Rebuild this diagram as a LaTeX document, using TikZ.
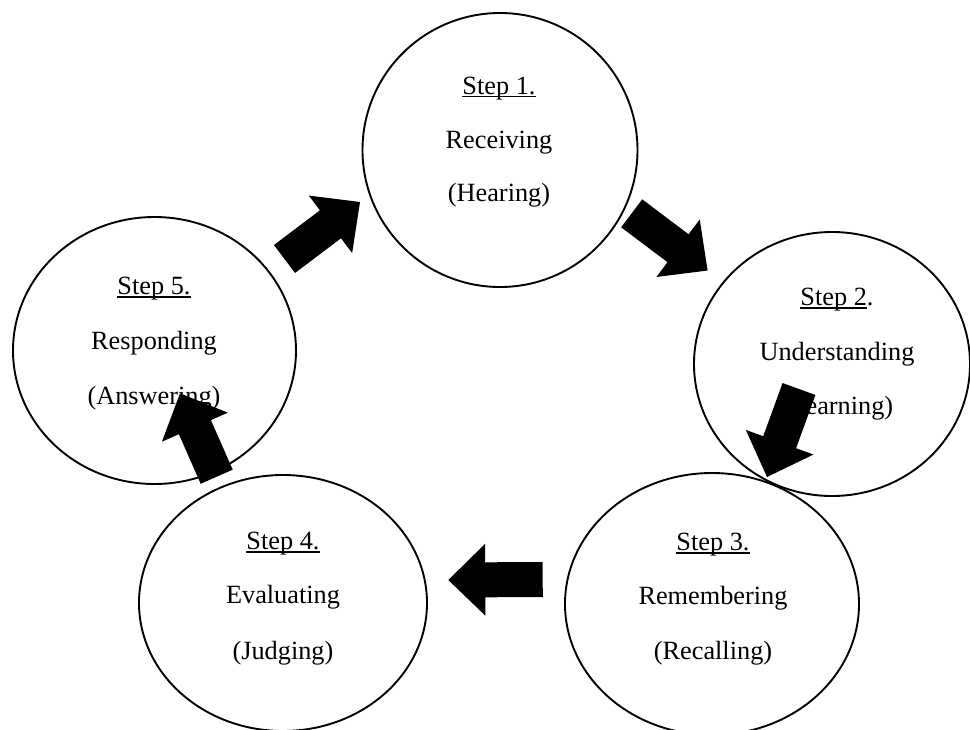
\documentclass[tikz,border=0pt]{standalone}
\usepackage{fontspec}
\setmainfont{Liberation Serif}
\usetikzlibrary{shapes.geometric,calc}
\newlength\ulw
\newcommand\ulx[1]{\settowidth\ulw{#1}\rlap{\rule[-3pt]{\ulw}{1.3pt}}#1}
\newcommand\blockarrow[3]{%
  \coordinate (#1h) at ($(#3)!37pt!(#2)$);
  \fill[black] ($(#2)!17.5pt!90:(#3)$) -- ($(#1h)!17.5pt!90:(#3)$) -- ($(#1h)!36pt!90:(#3)$) -- (#3)
     -- ($(#1h)!36pt!-90:(#3)$) -- ($(#1h)!17.5pt!-90:(#3)$) -- ($(#2)!17.5pt!-90:(#3)$) -- cycle;}
\begin{document}
\begin{tikzpicture}[x=1pt,y=-1pt,
  stepcircle/.style={draw=black, line width=1.9pt, ellipse, inner sep=0pt},
  steptext/.style={anchor=base, inner sep=0pt, font=\fontsize{26.3}{30}\selectfont}]
\useasboundingbox (0,0) rectangle (970,729);
\clip (0,0) rectangle (970,729);
% circles
\node[stepcircle, minimum width=275pt, minimum height=274pt] (c1) at (500,150) {};
\node[stepcircle, minimum width=276pt, minimum height=264pt] (c2) at (832,364) {};
\node[stepcircle, minimum width=294pt, minimum height=262pt] (c3) at (712,604) {};
\node[stepcircle, minimum width=288pt, minimum height=256pt] (c4) at (283,603) {};
\node[stepcircle, minimum width=283pt, minimum height=267pt] (c5) at (154.5,350.5) {};
% texts
\node[steptext] (t1a) at (499,94) {\ulx{Step 1.}};
\node[steptext] (t1b) at (499,148) {Receiving};
\node[steptext] (t1c) at (499,201.5) {(Hearing)};
\node[steptext] (t2a) at (837,305.5) {\ulx{Step 2}.};
\node[steptext] (t2b) at (837,360.5) {Understanding};
\node[steptext] (t2c) at (837,414.5) {(Learning)};
\node[steptext] (t3a) at (713,550.5) {\ulx{Step 3.}};
\node[steptext] (t3b) at (713,604.5) {Remembering};
\node[steptext] (t3c) at (713,659.5) {(Recalling)};
\node[steptext] (t4a) at (283,549.5) {\ulx{Step 4.}};
\node[steptext] (t4b) at (283,603.5) {Evaluating};
\node[steptext] (t4c) at (283,659.5) {(Judging)};
\node[steptext] (t5a) at (154,294.5) {\ulx{Step 5.}};
\node[steptext] (t5b) at (154,349.5) {Responding};
\node[steptext] (t5c) at (154,404.5) {(Answering)};
% block arrows
\coordinate (a1s) at (284.5,259);  \coordinate (a1e) at (360,202);
\coordinate (a2s) at (631.7,213.3); \coordinate (a2e) at (707.6,270.5);
\coordinate (a3s) at (799,389);    \coordinate (a3e) at (767,477);
\coordinate (a4s) at (542.7,579.5); \coordinate (a4e) at (448.3,580);
\coordinate (a5s) at (216.7,476.7); \coordinate (a5e) at (180,393.3);
\blockarrow{ba}{a1s}{a1e}
\blockarrow{bb}{a2s}{a2e}
\blockarrow{bc}{a3s}{a3e}
\blockarrow{bd}{a4s}{a4e}
\blockarrow{be}{a5s}{a5e}
\end{tikzpicture}
\end{document}
